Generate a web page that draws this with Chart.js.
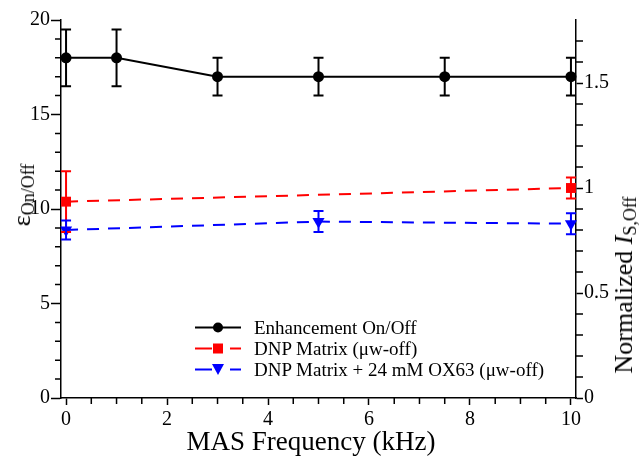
<!DOCTYPE html>
<html>
<head>
<meta charset="utf-8">
<script src="https://cdn.jsdelivr.net/npm/chart.js@4"></script>
<style>
  body { margin: 0; background: #fff; }
  #wrap { position: relative; width: 640px; height: 461px; font-family: "Liberation Serif", "DejaVu Serif", serif; color: #000; }
  #wrap canvas { position: absolute; left: 0; top: 0; }
  .title { position: absolute; white-space: nowrap; transform: translate(-50%, -50%); font-size: 26px; line-height: 1; }
  .rot { transform: translate(-50%, -50%) rotate(-90deg); }
  .title sub { font-size: 18px; vertical-align: -4px; }
  #legend { position: absolute; left: 195px; top: 317px; font-size: 19px; line-height: 21px; }
  #legend .row { display: flex; align-items: center; height: 21px; }
  #legend svg { margin-right: 13px; flex: none; }
</style>
</head>
<body>
<div id="wrap">
  <canvas id="chart" width="640" height="461"></canvas>
  <div class="title" style="left:311px;top:441px;font-size:27px">MAS Frequency (kHz)</div>
  <div class="title rot" style="left:23px;top:195px">ε<sub>On/Off</sub></div>
  <div class="title rot" style="left:625px;top:285px">Normalized <i>I</i><sub>S,Off</sub></div>
  <div id="legend">
    <div class="row">
      <svg width="46" height="21"><line x1="0" y1="10.5" x2="46" y2="10.5" stroke="#000" stroke-width="2"/><circle cx="23" cy="10.5" r="5" fill="#000"/></svg>
      <span>Enhancement On/Off</span>
    </div>
    <div class="row">
      <svg width="46" height="21"><line x1="0" y1="10.5" x2="17" y2="10.5" stroke="#ff0000" stroke-width="2"/><rect x="18" y="5.5" width="10" height="10" fill="#ff0000"/><line x1="35" y1="10.5" x2="46" y2="10.5" stroke="#ff0000" stroke-width="2"/></svg>
      <span>DNP Matrix (μw-off)</span>
    </div>
    <div class="row">
      <svg width="46" height="21"><line x1="0" y1="10.5" x2="17" y2="10.5" stroke="#0000ff" stroke-width="2"/><polygon points="17,5 29,5 23,16" fill="#0000ff"/><line x1="35" y1="10.5" x2="46" y2="10.5" stroke="#0000ff" stroke-width="2"/></svg>
      <span>DNP Matrix + 24 mM OX63 (μw-off)</span>
    </div>
  </div>
</div>
<script>
// Enhancement On/Off (left axis)
const MAS_ENH = [0, 1, 3, 5, 7.5, 10];
const ENH = [18, 18, 17, 17, 17, 17];
const ENH_ERR = [1.5, 1.5, 1, 1, 1, 1];

// DNP matrix, microwave off (right axis)
const MAS_MATRIX = [0, 10];
const MATRIX = [0.935, 1.0];
const MATRIX_ERR = [0.145, 0.05];

// DNP matrix + 24 mM OX63, microwave off (right axis)
const MAS_OX63 = [0, 5, 10];
const OX63 = [0.80, 0.84, 0.83];
const OX63_ERR = [0.045, 0.05, 0.05];

// Axis ticks
const X_TICKS = [0, 2, 4, 6, 8, 10];
const X_MINOR = [0.5, 1, 1.5, 2.5, 3, 3.5, 4.5, 5, 5.5, 6.5, 7, 7.5, 8.5, 9, 9.5];
const LEFT_TICKS = [0, 5, 10, 15, 20];
const LEFT_MINOR = [1, 2, 3, 4, 6, 7, 8, 9, 11, 12, 13, 14, 16, 17, 18, 19];
const RIGHT_TICKS = [0, 0.5, 1, 1.5];
const RIGHT_MINOR = [0.1, 0.2, 0.3, 0.4, 0.6, 0.7, 0.8, 0.9, 1.1, 1.2, 1.3, 1.4, 1.6, 1.7];

const FONT = 'Liberation Serif, DejaVu Serif, serif';
const RED = '#ff0000';
const BLUE = '#0000ff';

const toXY = (xs, ys) => xs.map((x, i) => ({ x, y: ys[i] }));

// Vertical error bars with caps, from each dataset's errors array
const errorBars = {
  id: 'errorBars',
  afterDatasetsDraw(chart) {
    const ctx = chart.ctx;
    chart.data.datasets.forEach((ds) => {
      if (!ds.errors) return;
      const xs = chart.scales.x;
      const ys = chart.scales[ds.yAxisID];
      ctx.save();
      ctx.strokeStyle = ds.borderColor;
      ctx.lineWidth = 2;
      ds.data.forEach((p, i) => {
        const px = xs.getPixelForValue(p.x);
        const top = ys.getPixelForValue(p.y + ds.errors[i]);
        const bot = ys.getPixelForValue(p.y - ds.errors[i]);
        ctx.beginPath();
        ctx.moveTo(px, top); ctx.lineTo(px, bot);
        ctx.moveTo(px - 5, top); ctx.lineTo(px + 5, top);
        ctx.moveTo(px - 5, bot); ctx.lineTo(px + 5, bot);
        ctx.stroke();
      });
      ctx.restore();
    });
  },
};

// Short minor ticks outside the axes
const minorTicks = {
  id: 'minorTicks',
  afterDraw(chart) {
    const ctx = chart.ctx;
    const { x, y, y2 } = chart.scales;
    const area = chart.chartArea;
    ctx.save();
    ctx.strokeStyle = '#000';
    ctx.lineWidth = 1.5;
    ctx.beginPath();
    X_MINOR.forEach((v) => {
      const p = x.getPixelForValue(v);
      ctx.moveTo(p, area.bottom); ctx.lineTo(p, area.bottom + 6);
    });
    LEFT_MINOR.forEach((v) => {
      const p = y.getPixelForValue(v);
      ctx.moveTo(area.left, p); ctx.lineTo(area.left - 6, p);
    });
    RIGHT_MINOR.forEach((v) => {
      const p = y2.getPixelForValue(v);
      ctx.moveTo(area.right, p); ctx.lineTo(area.right + 7, p);
    });
    ctx.stroke();
    ctx.restore();
  },
};

const axisCommon = (ticksArr, size, pad) => ({
  afterBuildTicks: (s) => { s.ticks = ticksArr.map((v) => ({ value: v })); },
  ticks: { color: '#000', font: { family: FONT, size: 20 }, padding: pad, autoSkip: false, maxRotation: 0, callback: (v) => String(v) },
  grid: { drawOnChartArea: false, drawTicks: true, tickLength: size, tickColor: '#000', tickWidth: 1.5 },
  border: { display: true, color: '#000', width: 1.5 },
});

new Chart(document.getElementById('chart'), {
  type: 'scatter',
  data: {
    datasets: [
      {
        label: 'DNP Matrix (μw-off)',
        data: toXY(MAS_MATRIX, MATRIX),
        errors: MATRIX_ERR,
        yAxisID: 'y2',
        showLine: true,
        borderColor: RED,
        backgroundColor: RED,
        borderWidth: 2,
        borderDash: [12, 9],
        pointStyle: 'rect',
        pointRadius: 7,
        pointBorderWidth: 0,
        clip: false,
      },
      {
        label: 'DNP Matrix + 24 mM OX63 (μw-off)',
        data: toXY(MAS_OX63, OX63),
        errors: OX63_ERR,
        yAxisID: 'y2',
        showLine: true,
        borderColor: BLUE,
        backgroundColor: BLUE,
        borderWidth: 2,
        borderDash: [12, 9],
        pointStyle: 'triangle',
        pointRotation: 180,
        pointRadius: 7,
        pointBorderWidth: 0,
        clip: false,
      },
      {
        label: 'Enhancement On/Off',
        data: toXY(MAS_ENH, ENH),
        errors: ENH_ERR,
        yAxisID: 'y',
        showLine: true,
        borderColor: '#000',
        backgroundColor: '#000',
        borderWidth: 2,
        pointRadius: 5.5,
        pointBorderWidth: 0,
        clip: false,
      },
    ],
  },
  options: {
    responsive: false,
    animation: false,
    events: [],
    layout: { padding: { top: 20, left: 0, right: 0, bottom: 0 } },
    plugins: { legend: { display: false }, tooltip: { enabled: false } },
    scales: {
      x: {
        type: 'linear', position: 'bottom', min: -0.1, max: 10.1,
        ...axisCommon(X_TICKS, 7, 3),
        afterFit: (s) => { s.height = 63; },
      },
      y: {
        type: 'linear', position: 'left', min: 0, max: 20,
        ...axisCommon(LEFT_TICKS, 10, 1),
        afterFit: (s) => { s.width = 61; },
      },
      y2: {
        type: 'linear', position: 'right', min: 0, max: 1.8,
        ...axisCommon(RIGHT_TICKS, 7, 1),
        afterFit: (s) => { s.width = 64; },
      },
    },
  },
  plugins: [errorBars, minorTicks],
});
</script>
</body>
</html>
